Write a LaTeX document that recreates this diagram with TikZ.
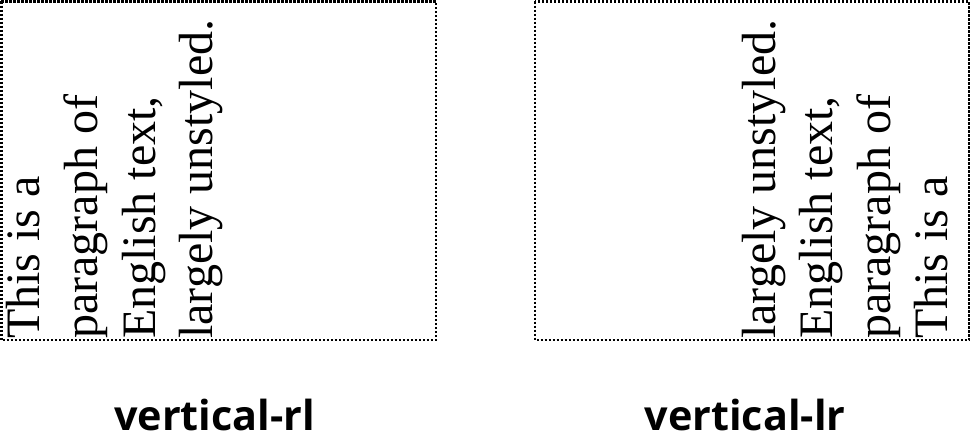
\documentclass[tikz,border=0pt]{standalone}
\usepackage{fontspec}
\setmainfont{Liberation Serif}
\newfontfamily\capfont{Open Sans}
\usetikzlibrary{positioning}

\begin{document}
\begin{tikzpicture}[x=0.75pt,y=-0.75pt,
  frame/.style={draw=black,line width=2pt,dash pattern=on 1.7pt off 1.3pt},
  vline/.style={rotate=90,anchor=base west,inner sep=0pt,font=\fontsize{36}{43.2}\selectfont},
  caption/.style={anchor=base,inner sep=0pt,font=\capfont\bfseries\fontsize{31}{36}\selectfont}]
\useasboundingbox (0,0) rectangle (972,439);
% left box: vertical-rl
\draw[frame] (1.5,1.5) rectangle (436,340);
\node[vline] (rl1) at (40,339) {This is a};
\node[vline] (rl2) at (97.6,339) {paragraph of};
\node[vline] (rl3) at (155.2,339) {English text,};
\node[vline] (rl4) at (212.8,339) {largely unstyled.};
\node[caption] (rlcap) at (214.5,430) {vertical-rl};
% right box: vertical-lr
\draw[frame] (535,1.5) rectangle (969,340);
\node[vline] (lr1) at (775,339) {largely unstyled.};
\node[vline] (lr2) at (832.6,339) {English text,};
\node[vline] (lr3) at (890.2,339) {paragraph of};
\node[vline] (lr4) at (947.8,339) {This is a};
\node[caption] (lrcap) at (745,430) {vertical-lr};
\end{tikzpicture}
\end{document}
